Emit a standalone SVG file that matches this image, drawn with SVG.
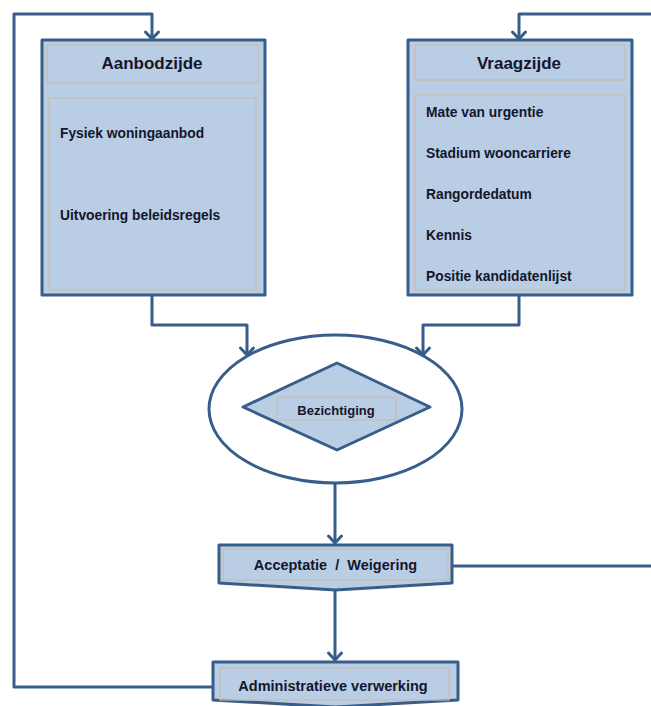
<svg xmlns="http://www.w3.org/2000/svg" width="651" height="706" viewBox="0 0 651 706">
<defs>
<style>
.box{fill:#b9cde5;stroke:#385d8a;stroke-width:3;stroke-linejoin:round}
.inner{fill:none;stroke:#c8bfae;stroke-width:1.2}
.line{fill:none;stroke:#385d8a;stroke-width:3;stroke-linejoin:round}
.t{font-family:"Liberation Sans",Arial,sans-serif;font-weight:bold;fill:#14162b}
.h{font-size:17px;text-anchor:middle}
.s{font-size:13.8px}
.c{font-size:13px;text-anchor:middle}
.b{font-size:14.5px;text-anchor:middle}
</style>
<marker id="arr" markerUnits="userSpaceOnUse" markerWidth="20" markerHeight="20" refX="0" refY="0" viewBox="-10 -10 20 20" orient="auto" overflow="visible">
<path d="M-7,-6.5 L0,0 L-7,6.5" fill="none" stroke="#385d8a" stroke-width="3" stroke-linejoin="round" stroke-linecap="round"/>
</marker>
</defs>
<rect width="651" height="706" fill="#ffffff"/>
<g id="connectors">
<path class="line" d="M213,687 H14 V14 H152 V39" marker-end="url(#arr)"/>
<path class="line" d="M651,14 H519 V39" marker-end="url(#arr)"/>
<path class="line" d="M152,295 V325 H247 V355" marker-end="url(#arr)"/>
<path class="line" d="M519,295 V325 H423 V355" marker-end="url(#arr)"/>
<path class="line" d="M335,483 V543" marker-end="url(#arr)"/>
<path class="line" d="M452,566 H651"/>
<path class="line" d="M335,590 V660" marker-end="url(#arr)"/>
</g>
<g id="aanbodzijde">
<rect class="box" x="42" y="40" width="223" height="255"/>
<rect class="inner" x="47" y="45" width="211" height="38"/>
<rect class="inner" x="49" y="98" width="207" height="192"/>
<text class="t h" x="152" y="69">Aanbodzijde</text>
<text class="t s" x="60" y="138">Fysiek woningaanbod</text>
<text class="t s" x="60" y="220">Uitvoering beleidsregels</text>
</g>
<g id="vraagzijde">
<rect class="box" x="408" y="40" width="224" height="255"/>
<rect class="inner" x="415" y="45" width="210" height="35"/>
<rect class="inner" x="415" y="95" width="210" height="195"/>
<text class="t h" x="519" y="69">Vraagzijde</text>
<text class="t s" x="426" y="117">Mate van urgentie</text>
<text class="t s" x="426" y="158">Stadium wooncarriere</text>
<text class="t s" x="426" y="199">Rangordedatum</text>
<text class="t s" x="426" y="240">Kennis</text>
<text class="t s" x="426" y="281">Positie kandidatenlijst</text>
</g>
<g id="bezichtiging">
<ellipse cx="335.5" cy="409" rx="126.5" ry="74" fill="#ffffff" stroke="#385d8a" stroke-width="3"/>
<polygon class="box" points="337,363 430,407 337,450 243,407"/>
<rect class="inner" x="277" y="397" width="119" height="23"/>
<text class="t c" x="336" y="415">Bezichtiging</text>
</g>
<g id="acceptatie">
<path class="box" d="M219,545 H452 V583 L335.5,590 L219,583 Z"/>
<rect class="inner" x="223" y="549" width="225" height="31"/>
<text class="t b" x="335.5" y="570" xml:space="preserve">Acceptatie  /  Weigering</text>
</g>
<g id="administratie">
<path class="box" d="M213,662 H458 V700 L335.5,707 L213,700 Z"/>
<rect class="inner" x="220" y="668" width="229" height="32"/>
<text class="t b" x="333" y="691">Administratieve verwerking</text>
</g>
</svg>
